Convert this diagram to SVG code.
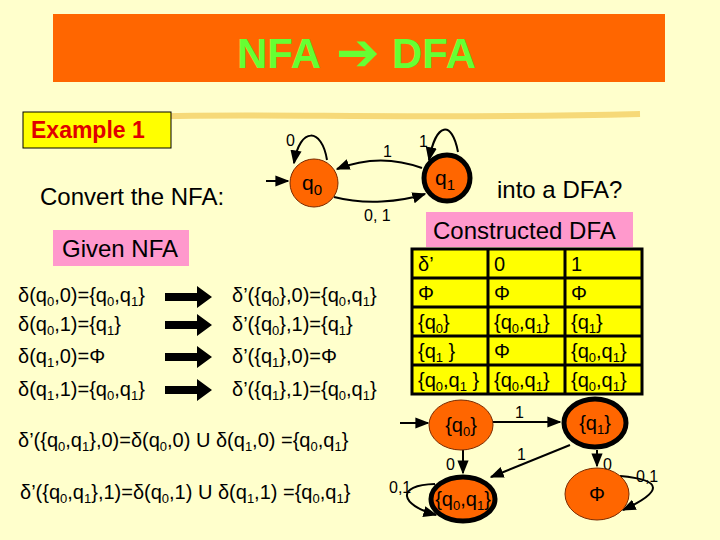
<svg xmlns="http://www.w3.org/2000/svg" width="720" height="540" viewBox="0 0 720 540">
<defs>
<marker id="ah" viewBox="0 0 10 10" refX="9" refY="5" markerWidth="7" markerHeight="7" orient="auto"><path d="M0,1 L10,5 L0,9 z" fill="#000"/></marker>
<style>
text{font-family:"Liberation Sans",Arial,sans-serif;fill:#000}
.big{font-size:24px}
.eq{font-size:20px}
.cell{font-size:20px}
.lbl{font-size:16px}
.s{font-size:13px;baseline-shift:-4px}
.edge{fill:none;stroke:#000;stroke-width:2;marker-end:url(#ah)}
.node{fill:#FF6600;stroke:#7a2a00;stroke-width:1}
.acc{fill:#FF6600;stroke:#000;stroke-width:5}
.tbl{fill:#FFFF00;stroke:#000;stroke-width:3}
.pink{fill:#FF99CC}
</style>
</defs>
<rect width="720" height="540" fill="#FFFFCC"/>
<path d="M130,117 C250,112 400,120 640,114" stroke="#F0C040" stroke-width="6" fill="none" opacity="0.6"/>
<g id="title">
<rect x="53" y="14" width="612" height="68" fill="#FF6600"/>
<text y="68" style="font-size:42px;font-weight:bold;fill:#66FF33"><tspan x="237">NFA</tspan><tspan x="336" y="70" style="font-size:52px;font-family:'DejaVu Sans',sans-serif;fill:#66FF33">➔</tspan><tspan x="392" y="68">DFA</tspan></text>
</g>
<g id="example">
<rect x="23" y="112" width="148" height="36" fill="#FFFF00" stroke="#000" stroke-width="1"/>
<text x="31" y="138" style="font-size:23px;font-weight:bold;fill:#E00000">Example 1</text>
</g>
<text class="big" x="40" y="205">Convert the NFA:</text>
<text class="big" x="497" y="198">into a DFA?</text>
<g id="given">
<rect class="pink" x="53" y="230" width="136" height="36"/>
<text class="big" x="62" y="257">Given NFA</text>
</g>
<g id="constructed">
<rect class="pink" x="426" y="212" width="207" height="35"/>
<text class="big" x="433" y="239">Constructed DFA</text>
</g>
<g id="nfa-connectors">
<path class="edge" d="M266,181 L288,181"/>
<path class="edge" d="M327,160 C322,128 300,126 294,163"/>
<path class="edge" d="M458,152 C452,120 436,122 429,160"/>
<path class="edge" d="M422,168 C395,158 365,158 337,169"/>
<path class="edge" d="M334,197 C365,205 400,202 425,194"/>
<text class="lbl" x="286" y="146">0</text>
<text class="lbl" x="419" y="147">1</text>
<text class="lbl" x="383" y="157">1</text>
<text class="lbl" x="364" y="221">0, 1</text>
</g>
<g id="nfa-q0">
<circle class="node" cx="314" cy="183" r="24"/>
<text x="302" y="190" style="font-size:21px">q<tspan style="font-size:15px;baseline-shift:-5px">0</tspan></text>
</g>
<g id="nfa-q1">
<circle class="acc" cx="447" cy="178" r="23"/>
<text x="435" y="185" style="font-size:21px">q<tspan style="font-size:15px;baseline-shift:-5px">1</tspan></text>
</g>
<g id="table">
<rect class="tbl" x="412" y="249" width="230" height="145"/>
<path d="M488,249 V394 M565,249 V394 M412,278 H642 M412,307 H642 M412,336 H642 M412,365 H642" stroke="#000" stroke-width="3"/>
<text class="cell" x="418" y="271">δ’</text><text class="cell" x="494" y="271">0</text><text class="cell" x="571" y="271">1</text>
<text class="cell" x="418" y="300">Φ</text><text class="cell" x="494" y="300">Φ</text><text class="cell" x="571" y="300">Φ</text>
<text class="cell" x="418" y="329">{q<tspan class="s">0</tspan>}</text><text class="cell" x="494" y="329">{q<tspan class="s">0</tspan>,q<tspan class="s">1</tspan>}</text><text class="cell" x="571" y="329">{q<tspan class="s">1</tspan>}</text>
<text class="cell" x="418" y="358">{q<tspan class="s">1</tspan> }</text><text class="cell" x="494" y="358">Φ</text><text class="cell" x="571" y="358">{q<tspan class="s">0</tspan>,q<tspan class="s">1</tspan>}</text>
<text class="cell" x="418" y="387">{q<tspan class="s">0</tspan>,q<tspan class="s">1</tspan> }</text><text class="cell" x="494" y="387">{q<tspan class="s">0</tspan>,q<tspan class="s">1</tspan>}</text><text class="cell" x="571" y="387">{q<tspan class="s">0</tspan>,q<tspan class="s">1</tspan>}</text>
</g>
<g id="equations">
<text class="eq" x="18" y="302">δ(q<tspan class="s">0</tspan>,0)={q<tspan class="s">0</tspan>,q<tspan class="s">1</tspan>}</text>
<text class="eq" x="18" y="331">δ(q<tspan class="s">0</tspan>,1)={q<tspan class="s">1</tspan>}</text>
<text class="eq" x="18" y="363">δ(q<tspan class="s">1</tspan>,0)=Φ</text>
<text class="eq" x="18" y="396">δ(q<tspan class="s">1</tspan>,1)={q<tspan class="s">0</tspan>,q<tspan class="s">1</tspan>}</text>
<text class="eq" x="232" y="302">δ’({q<tspan class="s">0</tspan>},0)={q<tspan class="s">0</tspan>,q<tspan class="s">1</tspan>}</text>
<text class="eq" x="232" y="331">δ’({q<tspan class="s">0</tspan>},1)={q<tspan class="s">1</tspan>}</text>
<text class="eq" x="232" y="363">δ’({q<tspan class="s">1</tspan>},0)=Φ</text>
<text class="eq" x="232" y="396">δ’({q<tspan class="s">1</tspan>},1)={q<tspan class="s">0</tspan>,q<tspan class="s">1</tspan>}</text>
<text class="eq" x="18" y="447">δ’({q<tspan class="s">0</tspan>,q<tspan class="s">1</tspan>},0)=δ(q<tspan class="s">0</tspan>,0) U δ(q<tspan class="s">1</tspan>,0) ={q<tspan class="s">0</tspan>,q<tspan class="s">1</tspan>}</text>
<text class="eq" x="20" y="499">δ’({q<tspan class="s">0</tspan>,q<tspan class="s">1</tspan>},1)=δ(q<tspan class="s">0</tspan>,1) U δ(q<tspan class="s">1</tspan>,1) ={q<tspan class="s">0</tspan>,q<tspan class="s">1</tspan>}</text>
</g>
<g id="big-arrows" fill="#000">
<path d="M165,293 H197 V286 L212,297 L197,308 V301 H165 Z"/>
<path d="M165,321 H197 V314 L212,325 L197,336 V329 H165 Z"/>
<path d="M165,353 H197 V346 L212,357 L197,368 V361 H165 Z"/>
<path d="M165,386 H197 V379 L212,390 L197,401 V394 H165 Z"/>
</g>
<g id="dfa-connectors">
<path class="edge" d="M400,423 L428,423"/>
<path class="edge" d="M493,422 L560,422"/>
<path class="edge" d="M463,450 L463,473"/>
<path class="edge" d="M570,445 L491,477"/>
<path class="edge" d="M597,450 L597,466"/>
<path class="edge" d="M620,476 C665,480 662,492 623,510"/>
<path class="edge" d="M435,484 C395,485 400,505 436,515"/>
<text class="lbl" x="515" y="418">1</text>
<text class="lbl" x="446" y="470">0</text>
<text class="lbl" x="517" y="460">1</text>
<text class="lbl" x="603" y="470">0</text>
<text class="lbl" x="636" y="482">0,1</text>
<text class="lbl" x="389" y="493">0,1</text>
</g>
<g id="dfa-q0">
<ellipse class="node" cx="461" cy="425" rx="32" ry="25"/>
<text class="cell" x="461" y="432" text-anchor="middle">{q<tspan class="s">0</tspan>}</text>
</g>
<g id="dfa-q1">
<ellipse class="acc" cx="595" cy="423" rx="31" ry="24"/>
<text class="cell" x="595" y="430" text-anchor="middle">{q<tspan class="s">1</tspan>}</text>
</g>
<g id="dfa-q0q1">
<ellipse class="acc" cx="463" cy="499" rx="32" ry="22"/>
<text class="cell" x="463" y="506" text-anchor="middle">{q<tspan class="s">0</tspan>,q<tspan class="s">1</tspan>}</text>
</g>
<g id="dfa-phi">
<ellipse class="node" cx="597" cy="494" rx="32" ry="26"/>
<text class="cell" x="597" y="501" text-anchor="middle">Φ</text>
</g>
</svg>
